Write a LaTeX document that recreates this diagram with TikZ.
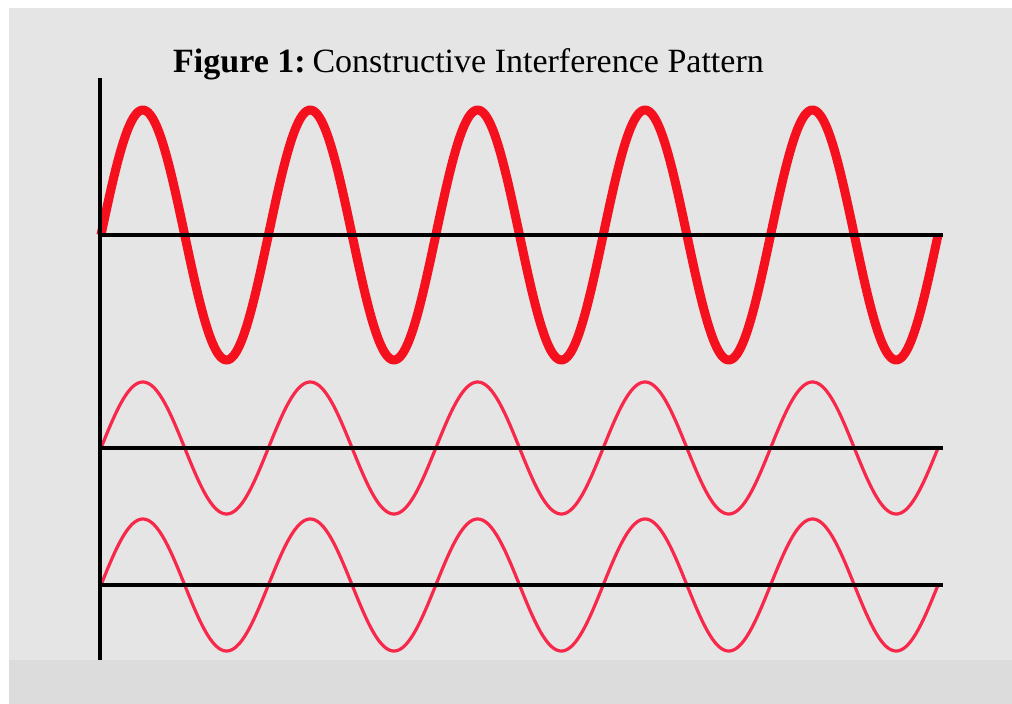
\documentclass[tikz,border=0pt]{standalone}
\usepackage{fontspec}
\setmainfont{Liberation Serif}
\definecolor{bgouter}{HTML}{DCDCDC}
\definecolor{bginner}{HTML}{E5E5E5}
\definecolor{bigred}{HTML}{F5101E}
\definecolor{smallred}{HTML}{F8284A}
\tikzset{
  axisline/.style={black, line width=4pt},
  bigwave/.style={bigred, line width=9pt, line join=round},
  smallwave/.style={smallred, line width=3.2pt, line join=round},
}
\begin{document}
\begin{tikzpicture}[x=1pt,y=-1pt]
\useasboundingbox (0,0) rectangle (1012,704);
\fill[white] (0,0) rectangle (1012,704);
\fill[bgouter] (9,8) rectangle (1012,704);
\fill[bginner] (9,8) rectangle (1012,660);
% title
\node[anchor=base west, inner sep=0pt, font=\fontsize{34}{40}\selectfont] (title) at (173,72) {\textbf{Figure 1:}\hspace{0.2em}Constructive Interference Pattern};
% waves
\draw[bigwave] plot[domain=101:938, samples=500, smooth] (\x, {235 - 125*sin((\x-101)/167.4*360)});
\draw[smallwave] plot[domain=101:938, samples=500, smooth] (\x, {448 - 66*sin((\x-101)/167.4*360)});
\draw[smallwave] plot[domain=101:938, samples=500, smooth] (\x, {585 - 66*sin((\x-101)/167.4*360)});
% axes
\coordinate (vtop) at (100,78);
\coordinate (vbot) at (100,660);
\draw[axisline] (vtop) -- (vbot);
\foreach \yy/\nm in {235/a,448/b,585/c} {
  \coordinate (\nm L) at (100,\yy);
  \coordinate (\nm R) at (943,\yy);
  \draw[axisline] (\nm L) -- (\nm R);
}
\end{tikzpicture}
\end{document}
